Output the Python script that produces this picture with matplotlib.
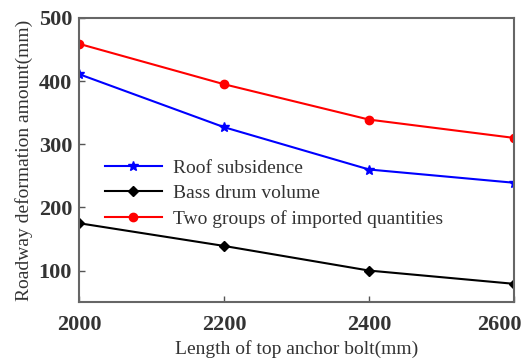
import matplotlib.pyplot as plt
from matplotlib.transforms import ScaledTranslation

plt.rcParams['font.family'] = ['Liberation Serif', 'DejaVu Serif']

bolt_length = [2000, 2200, 2400, 2600]
roof_subsidence = [411, 327, 260, 239]
bass_drum = [175, 139, 100, 79]
two_groups = [459, 395, 339, 310]

fig, ax = plt.subplots(figsize=(5.23, 3.58), dpi=100)

ax.plot(bolt_length, roof_subsidence, color='blue', marker='*', markersize=7, lw=1.5,
        label='Roof subsidence')
ax.plot(bolt_length, bass_drum, color='black', marker='D', markersize=5.5, lw=1.5,
        label='Bass drum volume')
ax.plot(bolt_length, two_groups, color='red', marker='o', markersize=6, lw=1.5,
        label='Two groups of imported quantities')

ax.set_xlim(2000, 2600)
ax.set_ylim(50, 500)
ax.set_xticks(bolt_length)
ax.set_yticks([100, 200, 300, 400, 500])
ax.tick_params(direction='in', length=4, width=1, colors='#555555', labelcolor='#333333',
               labelsize=16)
ax.tick_params(axis='y', pad=5)
ax.tick_params(axis='x', pad=9)
for lbl in ax.get_xticklabels() + ax.get_yticklabels():
    lbl.set_fontweight('bold')
# keep the last x label inside the figure
last = ax.get_xticklabels()[-1]
last.set_horizontalalignment('right')
last.set_transform(last.get_transform() + ScaledTranslation(0.08, 0, fig.dpi_scale_trans))

for s in ax.spines.values():
    s.set_color('#666666')
    s.set_linewidth(1.5)

ax.set_xlabel('Length of top anchor bolt(mm)', fontsize=14, color='#333333', labelpad=4)
ax.set_ylabel('Roadway deformation amount(mm)', fontsize=14, color='#333333', labelpad=4)

ax.legend(loc='upper left', bbox_to_anchor=(0.02, 0.565), frameon=False, fontsize=14,
          handlelength=2.9, handletextpad=0.6, labelspacing=0.4, labelcolor='#333333')

fig.subplots_adjust(left=0.151, right=0.983, top=0.95, bottom=0.156)
fig.savefig('out.png', dpi=100)
